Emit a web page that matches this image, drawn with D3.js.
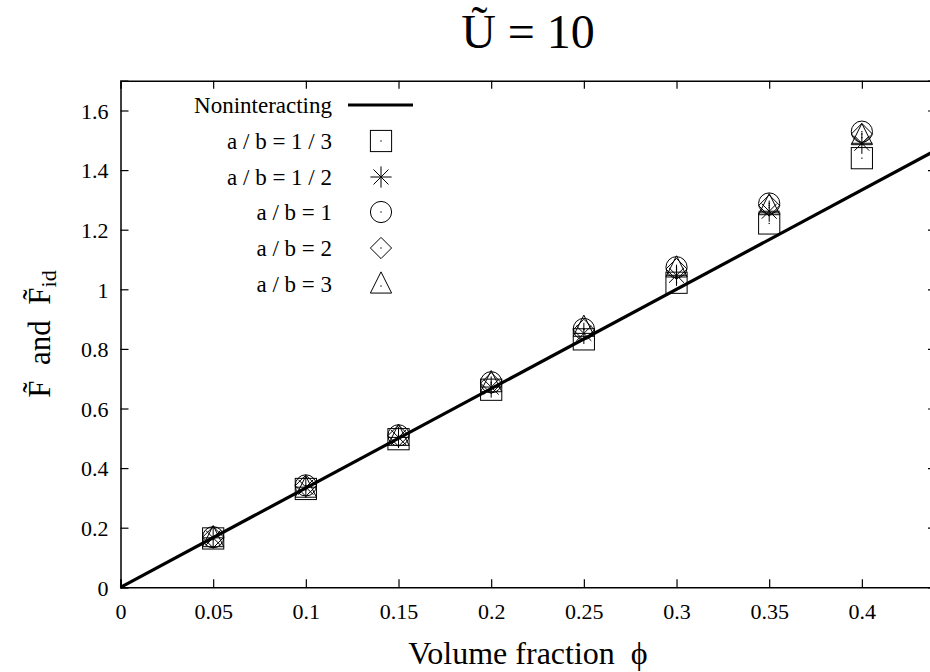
<!DOCTYPE html>
<html>
<head>
<meta charset="utf-8">
<script src="https://cdn.jsdelivr.net/npm/d3@7"></script>
<style>
  html, body { margin: 0; padding: 0; background: #fff; }
  svg { display: block; }
  text { font-family: "Liberation Serif", "Times New Roman", serif; fill: #000; white-space: pre; }
</style>
</head>
<body>
<svg id="chart" width="930" height="672"></svg>
<script>
// Volume fractions where the free energy was computed
const phi = [0.05, 0.10, 0.15, 0.20, 0.25, 0.30, 0.35, 0.40];

// Reduced free energy for each aspect ratio a / b
const fThird = [0.164, 0.330, 0.497, 0.663, 0.832, 1.022, 1.221, 1.440];
const fHalf  = [0.166, 0.336, 0.503, 0.672, 0.852, 1.047, 1.262, 1.490];
const fOne   = [0.168, 0.342, 0.510, 0.688, 0.867, 1.074, 1.288, 1.529];
const fTwo   = [0.168, 0.341, 0.509, 0.685, 0.864, 1.068, 1.281, 1.521];
const fThree = [0.160, 0.326, 0.500, 0.680, 0.866, 1.065, 1.274, 1.509];

// Noninteracting reference line (end points)
const idealPhi = [0, 0.44];
const idealF   = [0, 1.4667];

// Axis ticks
const xTicks = [0, 0.05, 0.1, 0.15, 0.2, 0.25, 0.3, 0.35, 0.4];
const yTicks = [0, 0.2, 0.4, 0.6, 0.8, 1, 1.2, 1.4, 1.6];

const seriesLabels = ["a / b = 1 / 3", "a / b = 1 / 2", "a / b = 1", "a / b = 2", "a / b = 3"];
const seriesValues = [fThird, fHalf, fOne, fTwo, fThree];
const seriesShapes = ["square", "star", "circle", "diamond", "triangle"];

const svg = d3.select("#chart");
const plotL = 120.5, plotR = 936, plotT = 80.7, plotB = 587.3;

const x = d3.scaleLinear().domain([0, 0.44]).range([plotL, plotR]);
const y = d3.scaleLinear().domain([0, 1.7]).range([plotB, plotT]);

// Title
svg.append("text")
  .attr("x", 528).attr("y", 48)
  .attr("text-anchor", "middle")
  .style("font-size", "48px")
  .text("\u0168 = 10");

// Axes with inward ticks on all four sides
const tickLen = 8;
const fmt = d => String(+d.toFixed(2));

const gx = svg.append("g").attr("transform", `translate(0,${plotB})`)
  .call(d3.axisBottom(x).tickValues(xTicks).tickSize(-tickLen).tickPadding(12).tickFormat(fmt));
const gxTop = svg.append("g").attr("transform", `translate(0,${plotT})`)
  .call(d3.axisTop(x).tickValues(xTicks.slice(1)).tickSize(-tickLen).tickFormat(""));
const gy = svg.append("g").attr("transform", `translate(${plotL},0)`)
  .call(d3.axisLeft(y).tickValues(yTicks).tickSize(-tickLen).tickPadding(12).tickFormat(fmt));
const gyRight = svg.append("g").attr("transform", `translate(${plotR},0)`)
  .call(d3.axisRight(y).tickValues(yTicks.slice(1)).tickSize(-tickLen).tickFormat(""));

[gx, gxTop, gy, gyRight].forEach(g => {
  g.select(".domain").attr("stroke", "#000").attr("stroke-width", 1.5);
  g.selectAll(".tick line").attr("stroke", "#000").attr("stroke-width", 1.2);
  g.selectAll(".tick text")
    .style("font-family", "Liberation Serif, serif")
    .style("font-size", "22px")
    .attr("fill", "#000");
});
gx.selectAll(".tick text").attr("dy", "0.9em");
gy.selectAll(".tick text").attr("dy", "0.35em");

// Axis titles
svg.append("text")
  .attr("x", 528).attr("y", 664)
  .attr("text-anchor", "middle")
  .style("font-size", "32px")
  .text("Volume fraction  \u03D5");

const yl = svg.append("text")
  .attr("transform", `translate(50,${(plotT + plotB) / 2}) rotate(-90)`)
  .attr("text-anchor", "middle")
  .style("font-size", "31px");
yl.append("tspan").text("F\u0303  and  F\u0303");
yl.append("tspan").attr("dy", 6).style("font-size", "22px").text("id");

// Noninteracting line
svg.append("path")
  .datum(d3.zip(idealPhi, idealF))
  .attr("d", d3.line().x(d => x(d[0])).y(d => y(d[1])))
  .attr("stroke", "#000").attr("stroke-width", 3.2).attr("fill", "none");

// Point symbols: open shapes with a centre dot, plus an eight-armed star
function drawSymbol(g, shape, cx, cy) {
  const s = 10.6;
  let el;
  if (shape === "square") {
    el = g.append("rect").attr("x", cx - s).attr("y", cy - s).attr("width", 2 * s).attr("height", 2 * s);
  } else if (shape === "circle") {
    el = g.append("circle").attr("cx", cx).attr("cy", cy).attr("r", s);
  } else if (shape === "diamond") {
    el = g.append("path").attr("d", `M${cx},${cy - s}L${cx + s},${cy}L${cx},${cy + s}L${cx - s},${cy}Z`);
  } else if (shape === "triangle") {
    const up = s * 4 / 3, dn = s * 2 / 3;
    el = g.append("path").attr("d", `M${cx},${cy - up}L${cx + s},${cy + dn}L${cx - s},${cy + dn}Z`);
  } else {
    const d = s * 0.7071;
    el = g.append("path").attr("d",
      `M${cx - s},${cy}L${cx + s},${cy}M${cx},${cy - s}L${cx},${cy + s}` +
      `M${cx - d},${cy - d}L${cx + d},${cy + d}M${cx - d},${cy + d}L${cx + d},${cy - d}`);
  }
  el.attr("stroke", "#000").attr("stroke-width", 1).attr("fill", "none");
  if (shape !== "star") {
    g.append("rect").attr("x", cx - 0.6).attr("y", cy - 0.6)
      .attr("width", 1.2).attr("height", 1.2).attr("fill", "#000");
  }
}

const pts = svg.append("g");
seriesValues.forEach((vals, i) => {
  vals.forEach((v, j) => drawSymbol(pts, seriesShapes[i], x(phi[j]), y(v)));
});

// Legend
const leg = svg.append("g");
const legTextX = 332, legSymX = 381, legY0 = 105, legDy = 36;
leg.append("text").attr("x", legTextX).attr("y", legY0).attr("dy", "0.35em")
  .attr("text-anchor", "end").style("font-size", "23px").text("Noninteracting");
leg.append("line").attr("x1", 348).attr("x2", 413).attr("y1", legY0).attr("y2", legY0)
  .attr("stroke", "#000").attr("stroke-width", 3.2);
seriesLabels.forEach((lab, i) => {
  const yy = legY0 + legDy * (i + 1) - (i > 1 ? 1 : 0);
  leg.append("text").attr("x", legTextX).attr("y", yy).attr("dy", "0.35em")
    .attr("text-anchor", "end").style("font-size", "23px").text(lab);
  drawSymbol(leg, seriesShapes[i], legSymX, yy + (seriesShapes[i] === "triangle" ? 2 : 0));
});
</script>
</body>
</html>
